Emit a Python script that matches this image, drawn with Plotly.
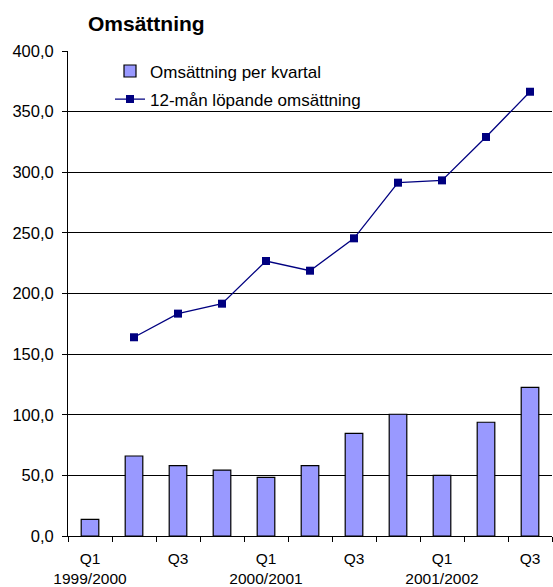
import plotly.graph_objects as go

categories = ["Q1 1999/2000", "Q2 1999/2000", "Q3 1999/2000", "Q4 1999/2000",
              "Q1 2000/2001", "Q2 2000/2001", "Q3 2000/2001", "Q4 2000/2001",
              "Q1 2001/2002", "Q2 2001/2002", "Q3 2001/2002"]
tick_labels = ["Q1<br>1999/2000", "", "Q3", "", "Q1<br>2000/2001", "", "Q3", "",
               "Q1<br>2001/2002", "", "Q3"]
quarterly = [13.7, 66.0, 58.0, 54.4, 48.4, 58.0, 84.7, 100.4, 50.0, 93.8, 122.6]
rolling12 = [None, 163.9, 183.4, 191.6, 226.8, 218.8, 245.5, 291.4, 293.3, 329.1, 366.4]
y_ticks = [0, 50, 100, 150, 200, 250, 300, 350, 400]
y_tick_labels = ["0,0", "50,0", "100,0", "150,0", "200,0", "250,0", "300,0", "350,0", "400,0"]

FONT = "Liberation Sans, Arial, sans-serif"

fig = go.Figure()
fig.add_trace(go.Bar(
    x=categories, y=quarterly, name="Omsättning per kvartal",
    marker=dict(color="#9999FF", line=dict(color="black", width=1.2)),
    width=0.4, legendgroup="a",
))
fig.add_trace(go.Scatter(
    x=categories, y=rolling12, name="12-mån löpande omsättning",
    mode="lines+markers", line=dict(color="#000080", width=1.3),
    marker=dict(symbol="square", size=8, color="#000080"),
    legendgroup="b",
))

fig.update_layout(
    width=553, height=587,
    margin=dict(l=68, r=1, t=51, b=51, autoexpand=False),
    paper_bgcolor="white", plot_bgcolor="white",
    font=dict(family=FONT, size=16, color="black"),
    title=dict(text="<b>Omsättning</b>", x=88/553, xanchor="left", y=1 - 23.5/587,
               yanchor="middle", font=dict(family=FONT, size=21, color="black")),
    showlegend=True,
    legend=dict(x=(110 - 68) / 484, y=0.995, xanchor="left", yanchor="top",
                bgcolor="rgba(0,0,0,0)", font=dict(size=17),
                traceorder="grouped", tracegroupgap=3),
    bargap=0.6,
)
fig.update_xaxes(
    type="category", tickmode="array", tickvals=categories, ticktext=tick_labels,
    tickson="boundaries", ticks="outside", ticklen=5, tickcolor="black",
    tickangle=0, automargin=False, ticklabelstandoff=8,
    showline=True, linecolor="black", linewidth=1, showgrid=False,
    range=[-0.5, 10.5], tickfont=dict(size=15.5),
)
fig.update_yaxes(
    range=[0, 400], tickmode="array", tickvals=y_ticks, ticktext=y_tick_labels,
    ticks="outside", ticklen=5, tickcolor="black", automargin=False,
    ticklabelstandoff=5,
    showline=True, linecolor="black", linewidth=1,
    showgrid=True, gridcolor="black", gridwidth=1, zeroline=False,
    tickfont=dict(size=16.5),
)

fig.write_html("out.html", config={"displayModeBar": False},
               post_script="document.body.style.margin='0px';")
